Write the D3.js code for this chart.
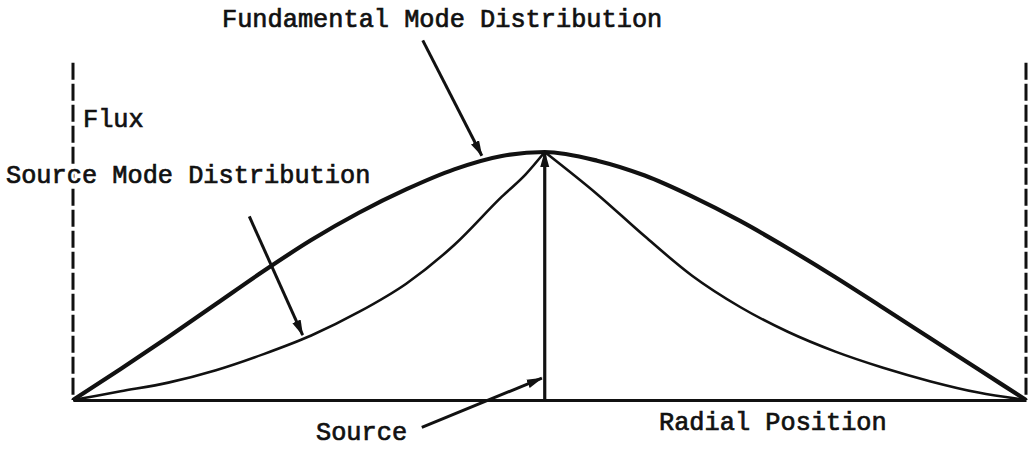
<!DOCTYPE html>
<html>
<head>
<meta charset="utf-8">
<script src="https://cdn.jsdelivr.net/npm/d3@7"></script>
<style>
  body { margin: 0; background: #fff; }
  text { font-family: "Liberation Mono", "DejaVu Sans Mono", monospace; font-size: 25.3px; }
</style>
</head>
<body>
<div id="chart-area"></div>
<script>
// radial position (0 = left wall, 100 = right wall), flux relative to peak
var sourcePos = 49.5;

var fundPos  = [0, 5, 10, 15, 20, 25, 30, 35, 40, 45, 49.5, 55, 60, 65, 70, 75, 80, 85, 90, 95, 100];
var fundFlux = [0, 0.125, 0.254, 0.387, 0.52, 0.645, 0.755, 0.85, 0.93, 0.984, 1.0, 0.965, 0.905, 0.82, 0.722, 0.612, 0.495, 0.372, 0.248, 0.124, 0];

var srcLeftPos   = [0, 5, 10, 15, 20, 25, 30, 35, 40, 45, 47.5, 49.5];
var srcLeftFlux  = [0, 0.035, 0.07, 0.12, 0.185, 0.26, 0.355, 0.47, 0.625, 0.82, 0.91, 1.0];
var srcRightPos  = [49.5, 55, 60, 65, 70, 75, 80, 85, 90, 95, 100];
var srcRightFlux = [1.0, 0.83, 0.66, 0.5, 0.375, 0.275, 0.195, 0.13, 0.075, 0.03, 0];

var wallTop = 1.36;

var width = 1031, height = 451;

var svg = d3.select("#chart-area")
    .append("svg")
    .attr("width", width)
    .attr("height", height);

var x = d3.scaleLinear().domain([0, 100]).range([73, 1026]);
var y = d3.scaleLinear().domain([0, 1]).range([400, 152]);

svg.append("defs").append("marker")
    .attr("id", "head")
    .attr("markerUnits", "userSpaceOnUse")
    .attr("viewBox", "0 0 16 10")
    .attr("refX", 15)
    .attr("refY", 5)
    .attr("markerWidth", 16)
    .attr("markerHeight", 10)
    .attr("orient", "auto")
    .append("path")
    .attr("d", "M0,0.5 L16,5 L0,9.5 Z")
    .attr("fill", "#111");

// walls (dashed)
svg.selectAll(".wall")
    .data([0, 100])
    .enter().append("line")
    .attr("class", "wall")
    .attr("x1", d => x(d)).attr("x2", d => x(d))
    .attr("y1", y(wallTop)).attr("y2", y(0))
    .attr("stroke", "#111")
    .attr("stroke-width", 3)
    .attr("stroke-dasharray", "17,4");

// baseline axis
var xAxis = svg.append("g")
    .attr("transform", "translate(0," + y(0) + ")")
    .call(d3.axisBottom(x).tickValues([]).tickSizeOuter(0));
xAxis.select(".domain")
    .attr("stroke", "#111")
    .attr("stroke-width", 3);

var line = d3.line()
    .x(d => x(d[0]))
    .y(d => y(d[1]))
    .curve(d3.curveMonotoneX);

svg.append("path")
    .datum(d3.zip(fundPos, fundFlux))
    .attr("d", line)
    .attr("fill", "none")
    .attr("stroke", "#111")
    .attr("stroke-width", 4.2)
    .attr("stroke-linejoin", "round");

[d3.zip(srcLeftPos, srcLeftFlux), d3.zip(srcRightPos, srcRightFlux)].forEach(seg => {
    svg.append("path")
        .datum(seg)
        .attr("d", line)
        .attr("fill", "none")
        .attr("stroke", "#111")
        .attr("stroke-width", 2.6);
});

// source spike
svg.append("line")
    .attr("x1", x(sourcePos)).attr("x2", x(sourcePos))
    .attr("y1", y(0)).attr("y2", y(1))
    .attr("stroke", "#111")
    .attr("stroke-width", 3.2)
    .attr("marker-end", "url(#head)");

// annotation arrows [x1, y1, x2, y2] in data units
var arrows = [
    [36.7, 1.45, 42.9, 0.985],
    [18.5, 0.74, 24.1, 0.262],
    [36.6, -0.11, 49.2, 0.088]
];
svg.selectAll(".arrow")
    .data(arrows)
    .enter().append("line")
    .attr("class", "arrow")
    .attr("x1", d => x(d[0])).attr("y1", d => y(d[1]))
    .attr("x2", d => x(d[2])).attr("y2", d => y(d[3]))
    .attr("stroke", "#111")
    .attr("stroke-width", 3)
    .attr("marker-end", "url(#head)");

// labels
var labels = [
    { t: "Fundamental Mode Distribution", px: 222, py: 27 },
    { t: "Flux", px: 83, py: 127 },
    { t: "Source Mode Distribution", px: 6, py: 183 },
    { t: "Source", px: 316, py: 440 },
    { t: "Radial Position", px: 659, py: 430 }
];
// white halo first so the dashed wall breaks under the text
svg.selectAll(".halo")
    .data(labels)
    .enter().append("text")
    .attr("class", "halo")
    .attr("x", d => d.px)
    .attr("y", d => d.py)
    .attr("fill", "#fff")
    .attr("stroke", "#fff")
    .attr("stroke-width", 6)
    .text(d => d.t);

svg.selectAll(".lbl")
    .data(labels)
    .enter().append("text")
    .attr("class", "lbl")
    .attr("x", d => d.px)
    .attr("y", d => d.py)
    .attr("fill", "#111")
    .attr("stroke", "#111")
    .attr("stroke-width", 0.7)
    .text(d => d.t);
</script>
</body>
</html>
